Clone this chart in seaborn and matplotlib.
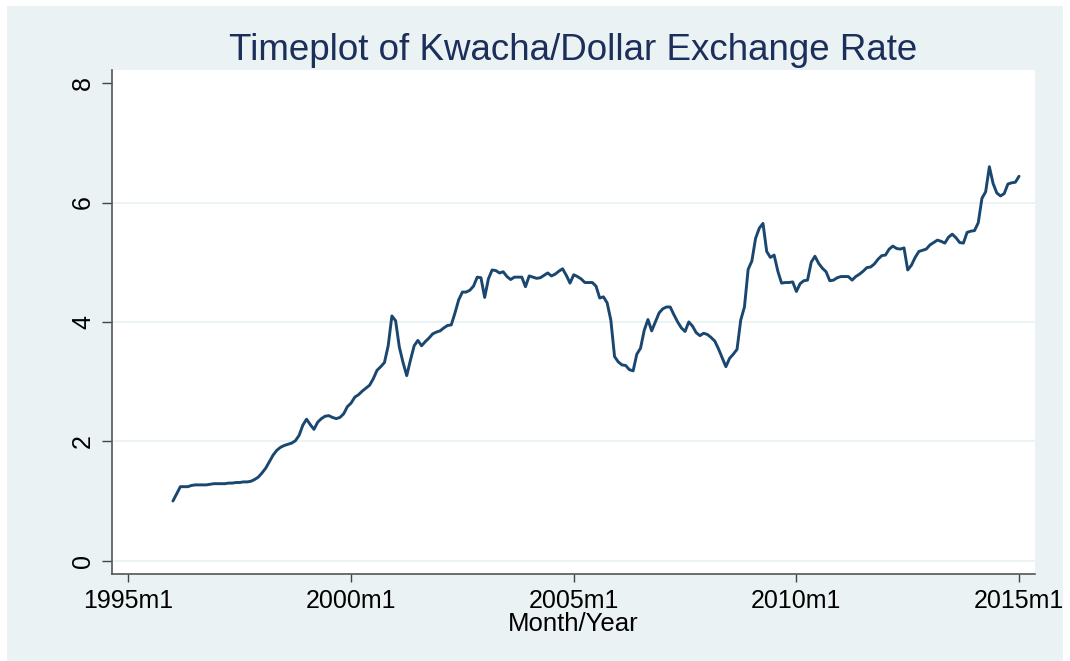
import numpy as np
import pandas as pd
import matplotlib
matplotlib.use('Agg')
import matplotlib.pyplot as plt
import seaborn as sns
from matplotlib.patches import Rectangle

# monthly kwacha per dollar rate, 1996m1 .. 2015m1
rate_1996 = [1.00, 1.12, 1.24, 1.24, 1.24, 1.26, 1.27, 1.27, 1.27, 1.27, 1.28, 1.29]
rate_1997 = [1.29, 1.29, 1.29, 1.30, 1.30, 1.31, 1.31, 1.32, 1.32, 1.33, 1.36, 1.40]
rate_1998 = [1.47, 1.55, 1.66, 1.77, 1.85, 1.90, 1.93, 1.95, 1.97, 2.01, 2.10, 2.27]
rate_1999 = [2.37, 2.28, 2.20, 2.32, 2.38, 2.42, 2.43, 2.40, 2.38, 2.40, 2.46, 2.58]
rate_2000 = [2.64, 2.74, 2.78, 2.84, 2.89, 2.94, 3.05, 3.19, 3.25, 3.32, 3.60, 4.10]
rate_2001 = [4.02, 3.58, 3.32, 3.10, 3.36, 3.60, 3.69, 3.60, 3.67, 3.73, 3.80, 3.83]
rate_2002 = [3.85, 3.90, 3.94, 3.95, 4.15, 4.37, 4.50, 4.50, 4.53, 4.60, 4.75, 4.74]
rate_2003 = [4.41, 4.72, 4.87, 4.86, 4.82, 4.84, 4.76, 4.71, 4.75, 4.75, 4.75, 4.59]
rate_2004 = [4.77, 4.75, 4.73, 4.74, 4.78, 4.82, 4.77, 4.80, 4.85, 4.89, 4.78, 4.65]
rate_2005 = [4.79, 4.76, 4.72, 4.66, 4.66, 4.66, 4.60, 4.40, 4.42, 4.32, 4.03, 3.42]
rate_2006 = [3.33, 3.28, 3.27, 3.20, 3.18, 3.46, 3.56, 3.86, 4.04, 3.85, 4.00, 4.15]
rate_2007 = [4.22, 4.25, 4.25, 4.12, 4.00, 3.90, 3.84, 4.00, 3.93, 3.82, 3.77, 3.81]
rate_2008 = [3.79, 3.74, 3.68, 3.55, 3.40, 3.25, 3.39, 3.46, 3.54, 4.03, 4.25, 4.88]
rate_2009 = [5.02, 5.40, 5.57, 5.65, 5.18, 5.08, 5.12, 4.85, 4.65, 4.66, 4.66, 4.67]
rate_2010 = [4.51, 4.64, 4.69, 4.70, 5.00, 5.10, 4.98, 4.90, 4.84, 4.69, 4.70, 4.74]
rate_2011 = [4.76, 4.76, 4.76, 4.70, 4.76, 4.80, 4.85, 4.91, 4.92, 4.97, 5.05, 5.11]
rate_2012 = [5.12, 5.22, 5.27, 5.23, 5.22, 5.24, 4.87, 4.95, 5.08, 5.18, 5.20, 5.22]
rate_2013 = [5.29, 5.33, 5.37, 5.35, 5.32, 5.42, 5.47, 5.41, 5.33, 5.32, 5.50, 5.52]
rate_2014 = [5.53, 5.66, 6.07, 6.18, 6.60, 6.32, 6.16, 6.11, 6.15, 6.31, 6.33, 6.34]
rate_2015 = [6.44]

x_tick_labels = ['1995m1', '2000m1', '2005m1', '2010m1', '2015m1']
y_ticks = [0, 2, 4, 6, 8]

rates = (rate_1996 + rate_1997 + rate_1998 + rate_1999 + rate_2000 + rate_2001
         + rate_2002 + rate_2003 + rate_2004 + rate_2005 + rate_2006 + rate_2007
         + rate_2008 + rate_2009 + rate_2010 + rate_2011 + rate_2012 + rate_2013
         + rate_2014 + rate_2015)
periods = pd.period_range('1996-01', periods=len(rates), freq='M')
df = pd.DataFrame({
    # Stata-like monthly index, months since 1995m1
    't': (periods.year - 1995) * 12 + (periods.month - 1),
    'rate': rates,
})

sns.set_style('white')
plt.rcParams['font.family'] = ['Liberation Sans', 'DejaVu Sans']

navy = '#1A476F'
bg = '#EAF2F3'

fig = plt.figure(figsize=(10.7, 6.61), dpi=100, facecolor='white')
# light graph region behind everything, thin white margin round it
fig.patches.append(Rectangle((7 / 1070, 0), 1056 / 1070, 655 / 661,
                             transform=fig.transFigure, facecolor=bg,
                             edgecolor='none', zorder=-10))
ax = fig.add_axes([0.1044, 0.1316, 0.8629, 0.7625])
ax.set_facecolor('white')

# grid lines (Stata leaves out the one at the top of the range)
for v in y_ticks[:-1]:
    ax.axhline(v, color=bg, linewidth=1.3, zorder=1)

sns.lineplot(data=df, x='t', y='rate', ax=ax, color=navy, linewidth=2.1, zorder=3)

ax.set_xlim(-4.5, 244.3)
ax.set_ylim(-0.223, 8.22)
ax.set_xticks([0, 60, 120, 180, 240])
ax.set_xticklabels(x_tick_labels)
ax.set_yticks(y_ticks)
ax.set_yticklabels([str(v) for v in y_ticks], rotation=90, va='center')
ax.tick_params(axis='x', bottom=True, direction='out', length=6, width=1,
               color='#444444', labelsize=18, labelcolor='black', pad=5)
ax.tick_params(axis='y', left=True, direction='out', length=7, width=1,
               color='#444444', labelsize=18, labelcolor='black', pad=5)

for side in ['top', 'right']:
    ax.spines[side].set_visible(False)
for side in ['left', 'bottom']:
    ax.spines[side].set_color('#555555')
    ax.spines[side].set_linewidth(1.2)

ax.set_xlabel('Month/Year', fontsize=18.5, color='black', labelpad=-1)
ax.set_ylabel('')
ax.set_title('Timeplot of Kwacha/Dollar Exchange Rate', fontsize=26.5,
             color='#1C2E5A', pad=7)

plt.savefig('out.png', dpi=100, facecolor='white')
plt.close()
